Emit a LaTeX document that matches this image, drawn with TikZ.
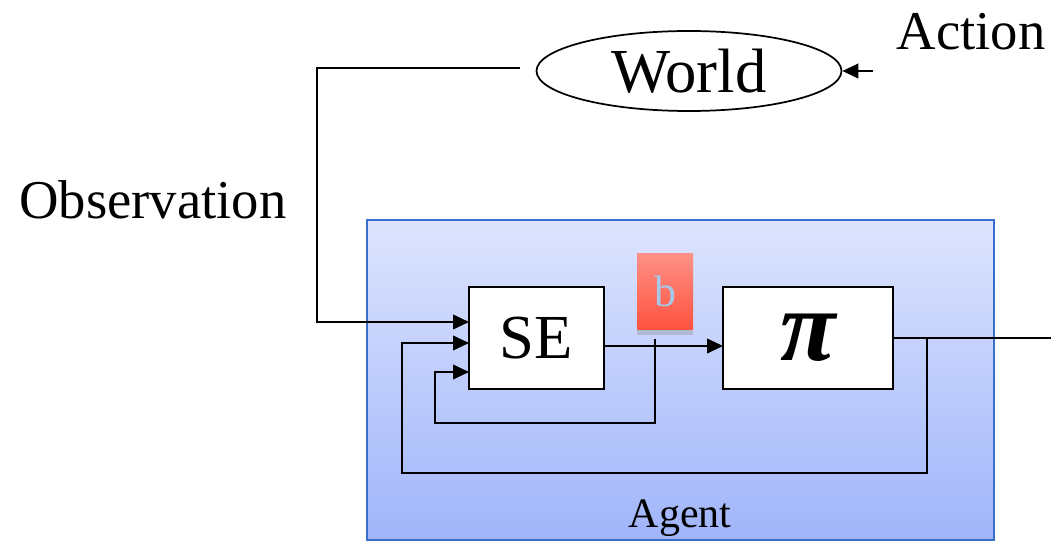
\documentclass[tikz,border=0pt]{standalone}
\usepackage{fontspec}
\setmainfont{Liberation Serif}
\usetikzlibrary{arrows.meta,shapes.geometric,calc}
\definecolor{agenttop}{RGB}{221,228,253}
\definecolor{agentbot}{RGB}{160,181,250}
\definecolor{agentline}{RGB}{58,110,205}
\definecolor{btop}{RGB}{255,145,135}
\definecolor{bbot}{RGB}{255,82,62}
\definecolor{bshadow}{RGB}{176,186,212}
\definecolor{btext}{RGB}{168,200,232}
\tikzset{
  conn/.style={line width=1.4pt,draw=black},
  arr/.style={conn,-{Triangle[length=12pt,width=11pt]}},
  block/.style={draw=black,line width=1.4pt,fill=white,inner sep=0pt},
  lbl/.style={inner sep=0pt,text=black}
}
\begin{document}
\begin{tikzpicture}[x=0.75pt,y=-0.75pt]
\useasboundingbox (0,0) rectangle (1051,542);
% agent box
\draw[draw=agentline,line width=1.2pt,top color=agenttop,bottom color=agentbot] (367,220) rectangle (994,540);
\node[lbl,font=\fontsize{31.5pt}{36pt}\selectfont,anchor=base] (agentlbl) at (680,527) {Agent};
% world
\node[draw=black,line width=1.3pt,ellipse,minimum width=305*0.75pt,minimum height=80*0.75pt,inner sep=0pt,font=\fontsize{47pt}{52pt}\selectfont] (world) at (689,71) {World};
\node[lbl,font=\fontsize{41pt}{46pt}\selectfont] (action) at (971,32) {Action};
\node[lbl,font=\fontsize{41pt}{46pt}\selectfont] (obs) at (153,200) {Observation};
% blocks
\node[block,minimum width=135*0.75pt,minimum height=102*0.75pt,font=\fontsize{47pt}{52pt}\selectfont] (se) at (536.5,338) {SE};
\node[block,minimum width=170*0.75pt,minimum height=102*0.75pt,font=\fontsize{76pt}{80pt}\selectfont\bfseries\itshape] (pi) at (808,338) {π};
% b belief
\fill[bshadow] (637,327) rectangle (693,335);
\node[inner sep=0pt,minimum width=56*0.75pt,minimum height=76*0.75pt,top color=btop,bottom color=bbot,text=btext,font=\fontsize{33pt}{36pt}\selectfont] (b) at (665,291) {b};
% coordinates
\coordinate (obsstart) at (520,68);
\coordinate (obscorner) at (317,68);
\coordinate (in1) at (469,322);
\coordinate (in2) at (469,343);
\coordinate (in3) at (469,372);
\coordinate (seout) at (604,346);
\coordinate (piin) at (723,346);
\coordinate (piout) at (893,338);
\coordinate (outend) at (1051,338);
\coordinate (tapb) at (655,339);
\coordinate (tapout) at (927,338);
\coordinate (act) at (873,71);
% connectors
\draw[arr] (obsstart) -- (obscorner) |- (in1);
\draw[arr] (seout) -- (piin);
\draw[conn] (piout) -- (outend);
\draw[arr] (tapout) -- (927,473) -- (402,473) |- (in2);
\draw[arr] (tapb) -- (655,423) -- (435,423) |- (in3);
\draw[arr] (act) -- (world.east);
\end{tikzpicture}
\end{document}
